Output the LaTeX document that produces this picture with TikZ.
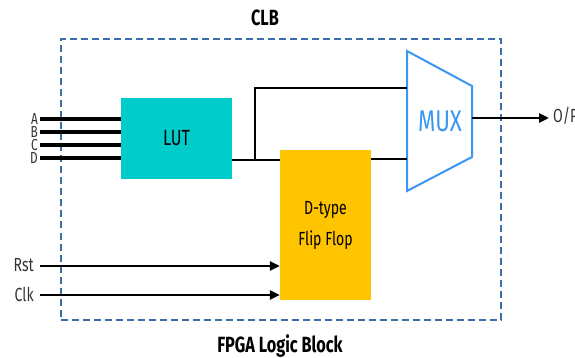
\documentclass[tikz,border=0pt]{standalone}
\usepackage{fontspec}
\setmainfont[FakeStretch=0.74]{Fira Sans}
\usetikzlibrary{arrows.meta}
\definecolor{lutcyan}{HTML}{00CCCC}
\definecolor{fforange}{HTML}{FFC400}
\definecolor{muxblue}{HTML}{3A96F0}
\definecolor{frameblue}{HTML}{3A6FAA}
\tikzset{
  wire/.style={line width=2.6pt, black},
  buswire/.style={line width=3.2pt, black},
  sig/.style={wire, -{Triangle[length=10pt,width=9pt]}},
  pinlabel/.style={font=\fontsize{19}{19}\selectfont, inner sep=0pt, text=black!80},
  buslabel/.style={font=\fontsize{16}{16}\selectfont, inner sep=0pt, text=black!80,
                   text height=11pt, text depth=0pt},
  title/.style={font=\fontsize{22}{22}\selectfont\bfseries, inner sep=0pt},
  block/.style={draw=none, inner sep=0pt, font=\fontsize{22}{22}\selectfont, align=center}
}
\begin{document}
\begin{tikzpicture}[x=1pt, y=-1pt]
\useasboundingbox (0,0) rectangle (575,358);

% logic block frame and titles
\node[draw=frameblue, line width=2pt, dash pattern=on 7pt off 4pt,
      minimum width=440pt, minimum height=280pt, inner sep=0pt] (clb) at (280.5,179.5) {};
\node[title] (clbtitle) at (265,18) {CLB};
\node[title] (fpgatitle) at (280,346) {FPGA Logic Block};

% LUT and flip-flop
\node[block, fill=lutcyan, minimum width=111pt, minimum height=81pt] (lut) at (176.5,138.5) {LUT};
\node[block, fill=fforange, minimum width=91pt, minimum height=149pt,
      font=\fontsize{19}{31}\selectfont] (ff) at (325.5,225) {D-type\\Flip Flop};

% multiplexer
\coordinate (mlt) at (407,51);
\coordinate (mlb) at (407,191);
\coordinate (mrt) at (472,86);
\coordinate (mrb) at (472,157);
\draw[muxblue, line width=2pt, line join=miter] (mlt) -- (mrt) -- (mrb) -- (mlb) -- cycle;
\node[text=muxblue, font=\fontsize{30}{30}\selectfont, inner sep=0pt] (mux) at (440,121) {MUX};
\coordinate (muxin1) at (407,88);
\coordinate (muxin2) at (407,159);
\coordinate (muxout) at (472,118);

% LUT inputs
\foreach \n/\y in {A/119,B/132,C/145,D/158}{
  \node[buslabel, anchor=east] (in\n) at (38,\y) {\n};
  \coordinate (s\n) at (40,\y);
  \draw[buswire] (s\n) -- (lut.west |- s\n);
}

% LUT output to flip-flop, with bypass to the multiplexer
\coordinate (lutout) at (lut.east |- 0,160);
\coordinate (tap) at (255,160);
\draw[wire] (lutout) -- (ff.west |- lutout);
\draw[wire, line join=miter] (tap) -- (tap |- muxin1) -- (muxin1);
\draw[wire] (ff.east |- muxin2) -- (muxin2);

% output
\coordinate (outend) at (549,118);
\draw[sig] (muxout) -- (outend);
\node[pinlabel, anchor=west] (op) at (553,116) {O/P};

% reset and clock
\node[pinlabel, anchor=east] (rst) at (34,265) {Rst};
\node[pinlabel, anchor=east] (clk) at (34,294) {Clk};
\coordinate (rsts) at (40,266);
\coordinate (clks) at (40,295);
\draw[sig] (rsts) -- (ff.west |- rsts);
\draw[sig] (clks) -- (ff.west |- clks);
\end{tikzpicture}
\end{document}
